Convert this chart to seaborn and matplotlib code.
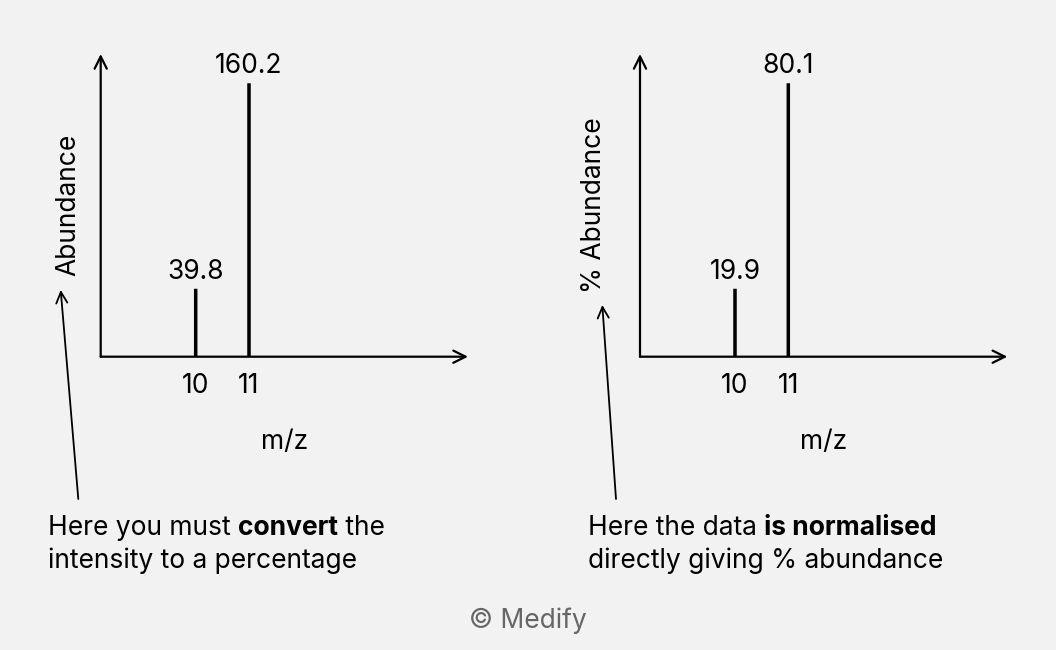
import matplotlib
matplotlib.use("Agg")
import matplotlib.pyplot as plt
import seaborn as sns
import pandas as pd

# ---- data ----
mz = [10, 11]
abundance_raw = [39.8, 160.2]
abundance_pct = [19.9, 80.1]
x_label = "m/z"
y_labels = ["Abundance", "% Abundance"]

sns.set_theme(style="white")
BG = "#f2f2f2"
plt.rcParams["font.family"] = ["Inter", "DejaVu Sans"]
plt.rcParams["figure.facecolor"] = BG
plt.rcParams["axes.facecolor"] = BG
FS = 19

W, H = 1056, 650
fig = plt.figure(figsize=(W / 100, H / 100), dpi=100)


def fx(px):
    return px / W


def fy(py):
    return 1 - py / H


def make_panel(x0, values, ylab, labelpad):
    left, right, top, bottom = x0, x0 + 367.3, 54, 356.7
    ax = fig.add_axes([fx(left), fy(bottom), (right - left) / W, (bottom - top) / H])
    df = pd.DataFrame({"mz": mz, "ab": values})
    sns.barplot(data=df, x="mz", y="ab", native_scale=True, width=0.066,
                color="black", saturation=1, linewidth=0, ax=ax)
    for p in ax.patches:
        p.set_snap(False)
    # scale: top of the y-axis arrow corresponds to 1.107 x largest peak
    ymax = max(values) * 1.107
    ax.set_ylim(0, ymax)
    ax.set_xlim(10 - 95 / 53.3, 10 + 272.3 / 53.3)
    for s in ax.spines.values():
        s.set_visible(False)
    ax.set_yticks([])
    ax.set_xticks(mz)
    ax.set_xticklabels([str(m) for m in mz], fontsize=FS, color="black")
    ax.tick_params(axis="x", length=0, pad=12)
    ax.set_xlabel(x_label, fontsize=FS, color="black", labelpad=21)
    ax.set_ylabel(ylab, fontsize=FS, color="black", labelpad=labelpad)
    for c in ax.containers:
        ax.bar_label(c, labels=[f"{v:g}" for v in values], padding=3,
                     fontsize=FS, color="black")
    arrow = dict(arrowstyle="->", lw=1.6, color="black",
                 shrinkA=0, shrinkB=0, mutation_scale=22)
    ax.annotate("", xy=(0, 1), xytext=(0, 0), xycoords="axes fraction",
                textcoords="axes fraction", arrowprops=arrow, annotation_clip=False)
    ax.annotate("", xy=(1, 0), xytext=(0, 0), xycoords="axes fraction",
                textcoords="axes fraction", arrowprops=arrow, annotation_clip=False)
    return ax


make_panel(100.7, abundance_raw, y_labels[0], 14)
make_panel(640, abundance_pct, y_labels[1], 24)

# pointer arrows
parrow = dict(arrowstyle="->", lw=1.3, color="black", shrinkA=0, shrinkB=0,
              mutation_scale=20)
fig.add_artist(matplotlib.patches.FancyArrowPatch(
    (fx(78.3), fy(499)), (fx(60.7), fy(290)), transform=fig.transFigure, **parrow))
fig.add_artist(matplotlib.patches.FancyArrowPatch(
    (fx(616), fy(499)), (fx(602.3), fy(305)), transform=fig.transFigure, **parrow))

renderer = fig.canvas.get_renderer()


def rich_line(x_px, y_px, parts):
    x = x_px
    for txt, bold in parts:
        t = fig.text(fx(x), fy(y_px), txt, fontsize=FS, color="black",
                     fontweight="bold" if bold else "normal", va="baseline", ha="left")
        bb = t.get_window_extent(renderer=renderer)
        x += bb.width


rich_line(48, 535, [("Here you must ", False), ("convert", True), (" the", False)])
rich_line(48, 568, [("intensity to a percentage", False)])
rich_line(588, 535, [("Here the data ", False), ("is normalised", True)])
rich_line(588, 568, [("directly giving % abundance", False)])

fig.text(0.5, fy(621), "© Medify", ha="center", va="center", fontsize=FS,
         color="#666666")

fig.savefig("out.png", dpi=100, facecolor=BG)
